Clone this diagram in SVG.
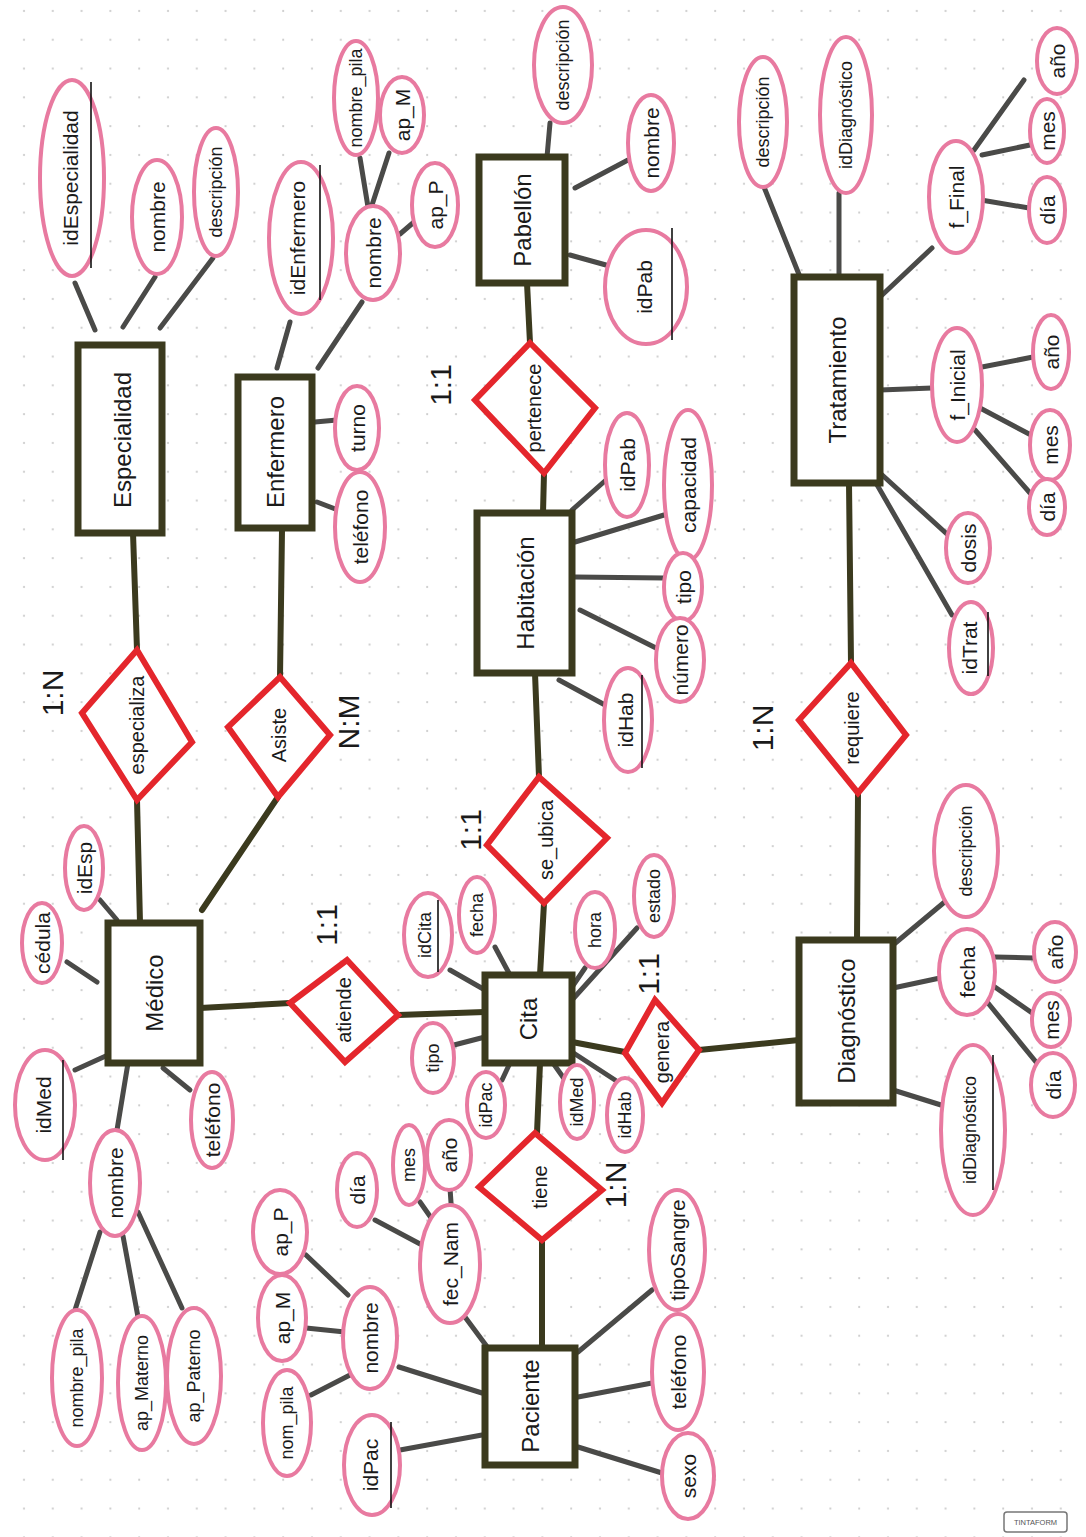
<svg xmlns="http://www.w3.org/2000/svg" width="1086" height="1537" viewBox="0 0 1086 1537">
<defs>
<pattern id="dots" width="28.8" height="28.8" patternUnits="userSpaceOnUse" x="10" y="-3">
<circle cx="14" cy="14" r="1.1" fill="#c9c9c9"/>
</pattern>
<style>
.ent{fill:#fff;stroke:#3b3a1e;stroke-width:7}
.rel{fill:#fff;stroke:#e4262c;stroke-width:6;stroke-linejoin:miter}
.att{fill:#fff;stroke:#e87aa0;stroke-width:4}
.el{stroke:#3b3a1e;stroke-width:6;fill:none;stroke-linecap:round}
.al{stroke:#4a4a48;stroke-width:5;fill:none;stroke-linecap:round}
.ul{stroke:#111;stroke-width:1.6}
text{font-family:"Liberation Sans",Arial,sans-serif;fill:#1a1a1a;text-anchor:middle;dominant-baseline:central}
.te{font-size:24px}
.tr{font-size:20px}
.ta{font-size:21px}
.ts{font-size:18px}
.tc{font-size:30px}
</style>
</defs>
<rect width="1086" height="1537" fill="#fff"/>
<rect width="1086" height="1537" fill="url(#dots)"/>

<g id="connectors">
<!-- entity-relationship -->
<path class="el" d="M133 533 L137 650"/>
<path class="el" d="M137 800 L140 923"/>
<path class="el" d="M282 530 L280 677"/>
<path class="el" d="M278 797 L202 910"/>
<path class="el" d="M527 283 L530 343"/>
<path class="el" d="M544 473 L543 513"/>
<path class="el" d="M535 673 L539 777"/>
<path class="el" d="M544 903 L540 975"/>
<path class="el" d="M200 1008 L290 1003"/>
<path class="el" d="M398 1015 L485 1012"/>
<path class="el" d="M572 1042 L625 1052"/>
<path class="el" d="M699 1050 L799 1040"/>
<path class="el" d="M540 1063 L537 1133"/>
<path class="el" d="M542 1240 L542 1348"/>
<path class="el" d="M849 483 L851 663"/>
<path class="el" d="M858 793 L857 940"/>
<!-- attributes: Especialidad -->
<path class="al" d="M75 283 L95 330"/>
<path class="al" d="M155 277 L123 327"/>
<path class="al" d="M213 258 L160 328"/>
<!-- Enfermero -->
<path class="al" d="M290 322 L277 368"/>
<path class="al" d="M362 302 L318 368"/>
<path class="al" d="M360 158 L368 207"/>
<path class="al" d="M389 153 L372 205"/>
<path class="al" d="M400 234 L414 222"/>
<path class="al" d="M315 422 L337 420"/>
<path class="al" d="M317 502 L338 510"/>
<!-- Pabellón -->
<path class="al" d="M550 123 L547 157"/>
<path class="al" d="M575 188 L628 160"/>
<path class="al" d="M570 255 L606 265"/>
<!-- Habitación -->
<path class="al" d="M572 510 L606 480"/>
<path class="al" d="M575 542 L664 515"/>
<path class="al" d="M575 577 L664 578"/>
<path class="al" d="M580 610 L656 648"/>
<path class="al" d="M559 680 L605 705"/>
<!-- Tratamiento -->
<path class="al" d="M764 187 L800 277"/>
<path class="al" d="M839 193 L839 277"/>
<path class="al" d="M880 297 L932 248"/>
<path class="al" d="M974 150 L1024 80"/>
<path class="al" d="M982 155 L1030 145"/>
<path class="al" d="M981 200 L1029 208"/>
<path class="al" d="M880 390 L932 388"/>
<path class="al" d="M982 367 L1033 357"/>
<path class="al" d="M980 408 L1031 435"/>
<path class="al" d="M975 430 L1030 493"/>
<path class="al" d="M880 473 L948 535"/>
<path class="al" d="M876 483 L952 615"/>
<!-- Diagnóstico -->
<path class="al" d="M893 945 L947 900"/>
<path class="al" d="M893 988 L940 978"/>
<path class="al" d="M995 957 L1034 958"/>
<path class="al" d="M992 985 L1035 1015"/>
<path class="al" d="M988 1003 L1036 1062"/>
<path class="al" d="M893 1090 L941 1105"/>
<!-- Médico -->
<path class="al" d="M67 962 L97 982"/>
<path class="al" d="M100 900 L117 920"/>
<path class="al" d="M75 1070 L108 1055"/>
<path class="al" d="M128 1063 L117 1130"/>
<path class="al" d="M163 1068 L190 1090"/>
<path class="al" d="M100 1232 L75 1310"/>
<path class="al" d="M123 1236 L138 1317"/>
<path class="al" d="M138 1212 L182 1308"/>
<!-- Paciente -->
<path class="al" d="M306 1255 L348 1295"/>
<path class="al" d="M306 1328 L345 1332"/>
<path class="al" d="M311 1395 L350 1375"/>
<path class="al" d="M399 1367 L482 1393"/>
<path class="al" d="M400 1450 L482 1435"/>
<path class="al" d="M465 1317 L488 1348"/>
<path class="al" d="M375 1220 L422 1245"/>
<path class="al" d="M420 1202 L434 1222"/>
<path class="al" d="M450 1188 L452 1217"/>
<path class="al" d="M578 1352 L652 1290"/>
<path class="al" d="M578 1397 L652 1383"/>
<path class="al" d="M578 1447 L662 1473"/>
<!-- Cita -->
<path class="al" d="M450 970 L485 990"/>
<path class="al" d="M495 947 L510 975"/>
<path class="al" d="M572 987 L585 968"/>
<path class="al" d="M572 1000 L637 928"/>
<path class="al" d="M454 1045 L485 1037"/>
<path class="al" d="M502 1080 L510 1063"/>
<path class="al" d="M553 1063 L565 1080"/>
<path class="al" d="M572 1052 L615 1080"/>
</g>

<!-- Entities -->
<g id="e-especialidad"><rect class="ent" x="78" y="345" width="84" height="188"/><text class="te" transform="translate(122 440) rotate(-90)">Especialidad</text></g>
<g id="e-enfermero"><rect class="ent" x="238" y="377" width="74" height="151"/><text class="te" transform="translate(275 452) rotate(-90)">Enfermero</text></g>
<g id="e-pabellon"><rect class="ent" x="479" y="157" width="86" height="126"/><text class="te" transform="translate(522 220) rotate(-90)">Pabellón</text></g>
<g id="e-habitacion"><rect class="ent" x="477" y="513" width="95" height="160"/><text class="te" transform="translate(525 593) rotate(-90)">Habitación</text></g>
<g id="e-tratamiento"><rect class="ent" x="794" y="277" width="86" height="206"/><text class="te" transform="translate(837 380) rotate(-90)">Tratamiento</text></g>
<g id="e-medico"><rect class="ent" x="108" y="923" width="92" height="140"/><text class="te" transform="translate(154 993) rotate(-90)">Médico</text></g>
<g id="e-cita"><rect class="ent" x="485" y="975" width="87" height="88"/><text class="te" transform="translate(528 1019) rotate(-90)">Cita</text></g>
<g id="e-diagnostico"><rect class="ent" x="799" y="940" width="94" height="163"/><text class="te" transform="translate(846 1021) rotate(-90)">Diagnóstico</text></g>
<g id="e-paciente"><rect class="ent" x="485" y="1348" width="90" height="117"/><text class="te" transform="translate(530 1406) rotate(-90)">Paciente</text></g>

<!-- Relationships -->
<g id="r-especializa"><polygon class="rel" points="137,650 192,742 137,800 82,713"/><text class="tr" transform="translate(137 725) rotate(-90)">especializa</text></g>
<g id="r-asiste"><polygon class="rel" points="280,677 330,735 278,797 228,727"/><text class="tr" transform="translate(279 735) rotate(-90)">Asiste</text></g>
<g id="r-pertenece"><polygon class="rel" points="530,343 595,408 544,473 475,400"/><text class="tr" transform="translate(534 408) rotate(-90)">pertenece</text></g>
<g id="r-seubica"><polygon class="rel" points="539,777 607,838 544,903 487,845"/><text class="tr" transform="translate(546 840) rotate(-90)">se_ubica</text></g>
<g id="r-atiende"><polygon class="rel" points="290,1003 347,960 398,1015 345,1062"/><text class="tr" transform="translate(344 1010) rotate(-90)">atiende</text></g>
<g id="r-genera"><polygon class="rel" points="625,1053 655,1000 699,1050 662,1103"/><text class="tr" font-size="17" transform="translate(662 1052) rotate(-90)">genera</text></g>
<g id="r-tiene"><polygon class="rel" points="535,1133 602,1190 542,1240 479,1187"/><text class="tr" transform="translate(540 1187) rotate(-90)">tiene</text></g>
<g id="r-requiere"><polygon class="rel" points="851,663 906,735 858,793 799,720"/><text class="tr" transform="translate(852 728) rotate(-90)">requiere</text></g>

<!-- Cardinalities -->
<g id="cardinalities">
<text class="tc" transform="translate(52 693) rotate(-90)">1:N</text>
<text class="tc" transform="translate(348 722) rotate(-90)">N:M</text>
<text class="tc" transform="translate(326 925) rotate(-90)">1:1</text>
<text class="tc" transform="translate(440 385) rotate(-90)">1:1</text>
<text class="tc" transform="translate(470 830) rotate(-90)">1:1</text>
<text class="tc" font-size="26" transform="translate(648 974) rotate(-90)">1:1</text>
<text class="tc" transform="translate(615 1185) rotate(-90)">1:N</text>
<text class="tc" transform="translate(762 728) rotate(-90)">1:N</text>
</g>

<!-- Attributes: Especialidad -->
<g id="a-esp-id"><ellipse class="att" cx="72" cy="178" rx="32" ry="98"/><text class="ta" font-size="23" transform="translate(70 178) rotate(-90)">idEspecialidad</text><line class="ul" x1="91" y1="82" x2="91" y2="268"/></g>
<g id="a-esp-nombre"><ellipse class="att" cx="157" cy="217" rx="25" ry="57"/><text class="ta" transform="translate(157 217) rotate(-90)">nombre</text></g>
<g id="a-esp-desc"><ellipse class="att" cx="216" cy="192" rx="22" ry="64"/><text class="ts" transform="translate(216 192) rotate(-90)">descripción</text></g>

<!-- Enfermero -->
<g id="a-enf-id"><ellipse class="att" cx="301" cy="238" rx="32" ry="76"/><text class="ta" transform="translate(297 238) rotate(-90)">idEnfermero</text><line class="ul" x1="320" y1="165" x2="320" y2="300"/></g>
<g id="a-enf-nombre"><ellipse class="att" cx="373" cy="253" rx="27" ry="47"/><text class="ta" transform="translate(373 253) rotate(-90)">nombre</text></g>
<g id="a-enf-pila"><ellipse class="att" cx="356" cy="98" rx="22" ry="57"/><text class="ts" font-size="17" transform="translate(356 98) rotate(-90)">nombre_pila</text></g>
<g id="a-enf-apm"><ellipse class="att" cx="402" cy="115" rx="22" ry="38"/><text class="ta" transform="translate(402 115) rotate(-90)">ap_M</text></g>
<g id="a-enf-app"><ellipse class="att" cx="435" cy="205" rx="23" ry="42"/><text class="ta" transform="translate(435 205) rotate(-90)">ap_P</text></g>
<g id="a-enf-turno"><ellipse class="att" cx="357" cy="428" rx="22" ry="42"/><text class="ta" transform="translate(357 428) rotate(-90)">turno</text></g>
<g id="a-enf-tel"><ellipse class="att" cx="360" cy="527" rx="25" ry="55"/><text class="ta" transform="translate(360 527) rotate(-90)">teléfono</text></g>

<!-- Pabellón -->
<g id="a-pab-desc"><ellipse class="att" cx="563" cy="65" rx="29" ry="58"/><text class="ts" transform="translate(563 65) rotate(-90)">descripción</text></g>
<g id="a-pab-nombre"><ellipse class="att" cx="651" cy="143" rx="23" ry="48"/><text class="ta" transform="translate(651 143) rotate(-90)">nombre</text></g>
<g id="a-pab-id"><ellipse class="att" cx="646" cy="287" rx="41" ry="57"/><text class="ta" font-size="24" transform="translate(644 287) rotate(-90)">idPab</text><line class="ul" x1="672" y1="228" x2="672" y2="340"/></g>

<!-- Habitación -->
<g id="a-hab-idpab"><ellipse class="att" cx="627" cy="465" rx="22" ry="52"/><text class="ta" transform="translate(627 465) rotate(-90)">idPab</text></g>
<g id="a-hab-cap"><ellipse class="att" cx="688" cy="485" rx="24" ry="75"/><text class="ta" transform="translate(688 485) rotate(-90)">capacidad</text></g>
<g id="a-hab-tipo"><ellipse class="att" cx="683" cy="587" rx="19" ry="34"/><text class="ta" transform="translate(683 587) rotate(-90)">tipo</text></g>
<g id="a-hab-num"><ellipse class="att" cx="680" cy="660" rx="24" ry="42"/><text class="ta" transform="translate(680 660) rotate(-90)">número</text></g>
<g id="a-hab-id"><ellipse class="att" cx="628" cy="720" rx="24" ry="52"/><text class="ta" transform="translate(625 720) rotate(-90)">idHab</text><line class="ul" x1="642" y1="675" x2="642" y2="768"/></g>

<!-- Tratamiento -->
<g id="a-tra-desc"><ellipse class="att" cx="763" cy="122" rx="24" ry="65"/><text class="ts" font-size="19" transform="translate(763 122) rotate(-90)">descripción</text></g>
<g id="a-tra-iddiag"><ellipse class="att" cx="846" cy="115" rx="26" ry="78"/><text class="ts" font-size="19" transform="translate(846 115) rotate(-90)">idDiagnóstico</text></g>
<g id="a-tra-ffinal"><ellipse class="att" cx="956" cy="197" rx="27" ry="56"/><text class="ta" transform="translate(956 197) rotate(-90)">f_Final</text></g>
<g id="a-tra-ff-anio"><ellipse class="att" cx="1057" cy="61" rx="20" ry="33"/><text class="ta" transform="translate(1057 61) rotate(-90)">año</text></g>
<g id="a-tra-ff-mes"><ellipse class="att" cx="1047" cy="131" rx="17" ry="32"/><text class="ta" transform="translate(1047 131) rotate(-90)">mes</text></g>
<g id="a-tra-ff-dia"><ellipse class="att" cx="1047" cy="210" rx="18" ry="33"/><text class="ta" transform="translate(1047 210) rotate(-90)">día</text></g>
<g id="a-tra-finicial"><ellipse class="att" cx="957" cy="385" rx="25" ry="57"/><text class="ta" transform="translate(957 385) rotate(-90)">f_Inicial</text></g>
<g id="a-tra-fi-anio"><ellipse class="att" cx="1051" cy="352" rx="18" ry="37"/><text class="ta" transform="translate(1051 352) rotate(-90)">año</text></g>
<g id="a-tra-fi-mes"><ellipse class="att" cx="1050" cy="445" rx="20" ry="35"/><text class="ta" transform="translate(1050 445) rotate(-90)">mes</text></g>
<g id="a-tra-fi-dia"><ellipse class="att" cx="1047" cy="507" rx="18" ry="28"/><text class="ta" transform="translate(1047 507) rotate(-90)">día</text></g>
<g id="a-tra-dosis"><ellipse class="att" cx="968" cy="548" rx="22" ry="35"/><text class="ta" transform="translate(968 548) rotate(-90)">dosis</text></g>
<g id="a-tra-id"><ellipse class="att" cx="971" cy="648" rx="22" ry="46"/><text class="ta" transform="translate(969 648) rotate(-90)">idTrat</text><line class="ul" x1="988" y1="612" x2="988" y2="676"/></g>

<!-- Diagnóstico -->
<g id="a-dia-desc"><ellipse class="att" cx="966" cy="851" rx="32" ry="66"/><text class="ts" font-size="20" transform="translate(966 851) rotate(-90)">descripción</text></g>
<g id="a-dia-fecha"><ellipse class="att" cx="967" cy="972" rx="28" ry="43"/><text class="ta" transform="translate(967 972) rotate(-90)">fecha</text></g>
<g id="a-dia-anio"><ellipse class="att" cx="1055" cy="952" rx="21" ry="30"/><text class="ta" transform="translate(1055 952) rotate(-90)">año</text></g>
<g id="a-dia-mes"><ellipse class="att" cx="1051" cy="1020" rx="19" ry="27"/><text class="ta" transform="translate(1051 1020) rotate(-90)">mes</text></g>
<g id="a-dia-dia"><ellipse class="att" cx="1053" cy="1085" rx="22" ry="32"/><text class="ta" transform="translate(1053 1085) rotate(-90)">día</text></g>
<g id="a-dia-id"><ellipse class="att" cx="973" cy="1130" rx="32" ry="85"/><text class="ts" font-size="20" transform="translate(970 1130) rotate(-90)">idDiagnóstico</text><line class="ul" x1="993" y1="1055" x2="993" y2="1190"/></g>

<!-- Médico -->
<g id="a-med-cedula"><ellipse class="att" cx="42" cy="943" rx="20" ry="40"/><text class="ta" transform="translate(42 943) rotate(-90)">cédula</text></g>
<g id="a-med-idesp"><ellipse class="att" cx="84" cy="868" rx="19" ry="42"/><text class="ta" transform="translate(84 868) rotate(-90)">idEsp</text></g>
<g id="a-med-id"><ellipse class="att" cx="45" cy="1105" rx="30" ry="55"/><text class="ta" transform="translate(43 1105) rotate(-90)">idMed</text><line class="ul" x1="63" y1="1060" x2="63" y2="1160"/></g>
<g id="a-med-nombre"><ellipse class="att" cx="115" cy="1183" rx="25" ry="53"/><text class="ta" transform="translate(115 1183) rotate(-90)">nombre</text></g>
<g id="a-med-tel"><ellipse class="att" cx="212" cy="1120" rx="21" ry="48"/><text class="ta" font-size="19" transform="translate(212 1120) rotate(-90)">teléfono</text></g>
<g id="a-med-pila"><ellipse class="att" cx="77" cy="1378" rx="25" ry="68"/><text class="ts" font-size="19" transform="translate(77 1378) rotate(-90)">nombre_pila</text></g>
<g id="a-med-apm"><ellipse class="att" cx="142" cy="1383" rx="24" ry="67"/><text class="ts" font-size="19" transform="translate(142 1383) rotate(-90)">ap_Materno</text></g>
<g id="a-med-app"><ellipse class="att" cx="194" cy="1376" rx="27" ry="68"/><text class="ts" font-size="19" transform="translate(194 1376) rotate(-90)">ap_Paterno</text></g>

<!-- Paciente -->
<g id="a-pac-app"><ellipse class="att" cx="280" cy="1232" rx="27" ry="42"/><text class="ta" transform="translate(280 1232) rotate(-90)">ap_P</text></g>
<g id="a-pac-apm"><ellipse class="att" cx="282" cy="1318" rx="24" ry="43"/><text class="ta" transform="translate(282 1318) rotate(-90)">ap_M</text></g>
<g id="a-pac-pila"><ellipse class="att" cx="287" cy="1423" rx="24" ry="53"/><text class="ts" font-size="19" transform="translate(287 1423) rotate(-90)">nom_pila</text></g>
<g id="a-pac-nombre"><ellipse class="att" cx="370" cy="1338" rx="27" ry="51"/><text class="ta" transform="translate(370 1338) rotate(-90)">nombre</text></g>
<g id="a-pac-id"><ellipse class="att" cx="372" cy="1465" rx="28" ry="50"/><text class="ta" transform="translate(370 1465) rotate(-90)">idPac</text><line class="ul" x1="391" y1="1422" x2="391" y2="1508"/></g>
<g id="a-pac-fecnam"><ellipse class="att" cx="450" cy="1264" rx="30" ry="59"/><text class="ta" transform="translate(450 1264) rotate(-90)">fec_Nam</text></g>
<g id="a-pac-dia"><ellipse class="att" cx="357" cy="1190" rx="20" ry="37"/><text class="ta" transform="translate(357 1190) rotate(-90)">día</text></g>
<g id="a-pac-mes"><ellipse class="att" cx="409" cy="1165" rx="16" ry="40"/><text class="ts" transform="translate(409 1165) rotate(-90)">mes</text></g>
<g id="a-pac-anio"><ellipse class="att" cx="449" cy="1155" rx="22" ry="35"/><text class="ta" transform="translate(449 1155) rotate(-90)">año</text></g>
<g id="a-pac-sangre"><ellipse class="att" cx="677" cy="1250" rx="28" ry="60"/><text class="ta" font-size="20" transform="translate(677 1250) rotate(-90)">tipoSangre</text></g>
<g id="a-pac-tel"><ellipse class="att" cx="678" cy="1372" rx="26" ry="58"/><text class="ta" transform="translate(678 1372) rotate(-90)">teléfono</text></g>
<g id="a-pac-sexo"><ellipse class="att" cx="688" cy="1476" rx="26" ry="43"/><text class="ta" transform="translate(688 1476) rotate(-90)">sexo</text></g>

<!-- Cita -->
<g id="a-cit-id"><ellipse class="att" cx="428" cy="935" rx="24" ry="42"/><text class="ts" transform="translate(425 935) rotate(-90)">idCita</text><line class="ul" x1="438" y1="900" x2="438" y2="972"/></g>
<g id="a-cit-fecha"><ellipse class="att" cx="477" cy="915" rx="18" ry="38"/><text class="ts" transform="translate(477 915) rotate(-90)">fecha</text></g>
<g id="a-cit-hora"><ellipse class="att" cx="595" cy="930" rx="20" ry="38"/><text class="ts" transform="translate(595 930) rotate(-90)">hora</text></g>
<g id="a-cit-estado"><ellipse class="att" cx="654" cy="896" rx="20" ry="41"/><text class="ts" transform="translate(654 896) rotate(-90)">estado</text></g>
<g id="a-cit-tipo"><ellipse class="att" cx="433" cy="1058" rx="21" ry="35"/><text class="ts" transform="translate(433 1058) rotate(-90)">tipo</text></g>
<g id="a-cit-idpac"><ellipse class="att" cx="486" cy="1105" rx="19" ry="33"/><text class="ts" font-size="16" transform="translate(486 1105) rotate(-90)">idPac</text></g>
<g id="a-cit-idmed"><ellipse class="att" cx="577" cy="1102" rx="17" ry="37"/><text class="ts" font-size="16" transform="translate(577 1102) rotate(-90)">idMed</text></g>
<g id="a-cit-idhab"><ellipse class="att" cx="625" cy="1115" rx="18" ry="37"/><text class="ts" font-size="16" transform="translate(625 1115) rotate(-90)">idHab</text></g>

<!-- logo -->
<g id="logo"><rect x="1004" y="1512" width="63" height="20" rx="3" fill="none" stroke="#777" stroke-width="1.5"/><text x="1035.5" y="1522" font-size="7.5" style="fill:#555">TINTAFORM</text></g>
</svg>
